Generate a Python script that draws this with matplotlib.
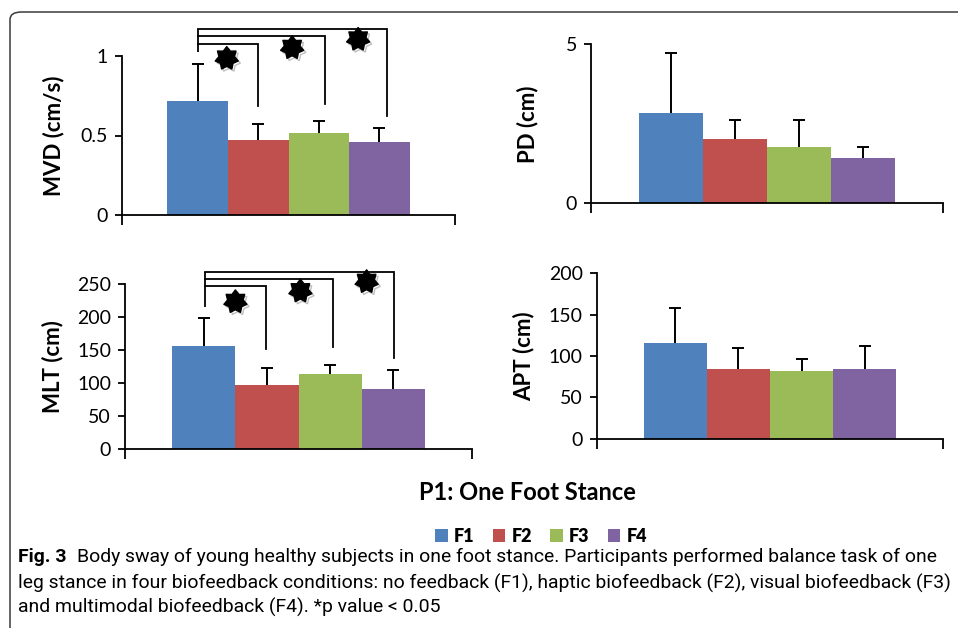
import matplotlib
matplotlib.use("Agg")
import matplotlib.pyplot as plt
import numpy as np
from matplotlib.patches import FancyBboxPatch, Patch
from matplotlib.path import Path
from matplotlib.text import Annotation
import matplotlib.patheffects as pe

# data
conditions = ["F1", "F2", "F3", "F4"]
colors = ["#4F81BD", "#C0504D", "#9BBB59", "#8064A2"]

mvd_mean = [0.717, 0.472, 0.516, 0.459]
mvd_sd = [0.231, 0.100, 0.077, 0.090]
pd_mean = [2.84, 2.02, 1.77, 1.42]
pd_sd = [1.90, 0.60, 0.84, 0.34]
mlt_mean = [156.5, 97.4, 114.0, 91.4]
mlt_sd = [42.5, 25.3, 14.0, 28.6]
apt_mean = [115.7, 84.3, 81.9, 84.3]
apt_sd = [42.3, 25.4, 14.5, 27.7]

caption = [
    "Body sway of young healthy subjects in one foot stance. "
    "Participants performed balance task of one",
    "leg stance in four biofeedback conditions: no feedback (F1), "
    "haptic biofeedback (F2), visual biofeedback (F3)",
    "and multimodal biofeedback (F4). *p value < 0.05",
]

W, H = 958, 628
chart_font = ["Lato", "DejaVu Sans"]
caption_font = ["Roboto", "DejaVu Sans"]

fig = plt.figure(figsize=(W / 100, H / 100), dpi=100)
fig.patch.set_facecolor("white")

# rounded frame around the figure panel (runs off the right/bottom edge)
frame = FancyBboxPatch((10 / W, (H - 640) / H), 970 / W, 628 / H,
                       boxstyle="round,pad=0,rounding_size=0.012",
                       transform=fig.transFigure, fill=False,
                       edgecolor="#3a3a3a", linewidth=1.1, clip_on=False)
fig.patches.append(frame)

# fat 7-point star like the reference
n = 7
ang = np.pi / 2 + np.arange(2 * n) * np.pi / n
rad = np.where(np.arange(2 * n) % 2 == 0, 1.0, 0.68)
verts = np.column_stack([rad * np.cos(ang), rad * np.sin(ang)])
verts = np.vstack([verts, verts[:1]])
star = Path(verts, [Path.MOVETO] + [Path.LINETO] * (2 * n - 1) + [Path.CLOSEPOLY])


def px_axes(left, right, y0, ytop):
    return fig.add_axes([left / W, (H - y0) / H, (right - left) / W, (y0 - ytop) / H])


def bar_panel(ax, means, sds, ylim, yticks, ylabel, ticklabels=None, lpad=10):
    x = np.arange(len(means))
    ax.bar(x, means, width=1.0, color=colors, edgecolor="none", zorder=2)
    eb = ax.errorbar(x, means, yerr=[np.zeros(len(sds)), sds], fmt="none",
                     ecolor="black", elinewidth=1.4, capsize=4.2,
                     capthick=1.4, zorder=3)
    eb[1][0].set_visible(False)  # only the upper cap, like Excel "plus"
    ax.set_xlim(-1.25, 4.25)
    ax.set_ylim(*ylim)
    ax.set_yticks(yticks)
    if ticklabels is not None:
        ax.set_yticklabels(ticklabels)
    ax.set_xticks([-1.25, 4.25])
    ax.set_xticklabels([])
    ax.tick_params(axis="x", direction="out", length=7, width=1.3)
    ax.tick_params(axis="y", direction="out", length=5, width=1.3,
                   labelsize=14, pad=5)
    for lab in ax.get_yticklabels():
        lab.set_family(chart_font)
    for s in ["top", "right"]:
        ax.spines[s].set_visible(False)
    for s in ["left", "bottom"]:
        ax.spines[s].set_linewidth(1.3)
    ax.set_ylabel(ylabel, fontsize=16, fontweight="bold", family=chart_font,
                  labelpad=lpad)
    ax.patch.set_alpha(0)


def brackets(ax, x0, y0, arms, stars):
    # arms: (x_end, y_level, y_drop)
    top = max(a[1] for a in arms)
    ax.plot([x0, x0], [y0, top], color="black", lw=1.3, clip_on=False,
            solid_capstyle="butt")
    for xe, yl, yd in arms:
        ax.plot([x0, xe, xe], [yl, yl, yd], color="black", lw=1.3,
                clip_on=False, solid_joinstyle="miter")
    for sx, sy in stars:
        ax.plot(sx, sy, marker=star, markersize=17, color="black",
                clip_on=False, linestyle="none", zorder=5,
                path_effects=[pe.SimpleLineShadow(offset=(1.5, -1.5),
                                                  shadow_color="gray",
                                                  alpha=0.5),
                              pe.Normal()])


# MVD
ax1 = px_axes(122, 455, 215, 56)
bar_panel(ax1, mvd_mean, mvd_sd, (0, 1), [0, 0.5, 1], "MVD (cm/s)",
          ["0", "0.5", "1"], lpad=12)
brackets(ax1, 0.0, 1.025,
         [(1.0, 1.077, 0.686), (2.1, 1.126, 0.696), (3.12, 1.172, 0.625)],
         [(0.48, 0.985), (1.56, 1.052), (2.65, 1.105)])

# PD
ax2 = px_axes(591, 943, 203.3, 44.3)
bar_panel(ax2, pd_mean, pd_sd, (0, 5), [0, 5], "PD (cm)", lpad=20)

# MLT
ax3 = px_axes(125, 472, 449.3, 284.3)
bar_panel(ax3, mlt_mean, mlt_sd, (0, 250), [0, 50, 100, 150, 200, 250],
          "MLT (cm)", lpad=10)
brackets(ax3, 0.02, 216,
         [(0.99, 247.4, 152), (2.04, 258.5, 154.5), (3.02, 269, 138.8)],
         [(0.5, 223.6), (1.53, 239.8), (2.58, 254)])

# APT
ax4 = px_axes(596.7, 943.3, 438.7, 273.3)
bar_panel(ax4, apt_mean, apt_sd, (0, 200), [0, 50, 100, 150, 200],
          "APT (cm)", lpad=10)

# shared title and legend
fig.text(527 / W, 1 - 492 / H, "P1: One Foot Stance", ha="center",
         va="center", fontsize=17, fontweight="bold", family=chart_font)
handles = [Patch(facecolor=c, edgecolor="none") for c in colors]
fig.legend(handles, conditions, loc="center", ncol=4,
           bbox_to_anchor=(541 / W, 1 - 536 / H), frameon=False,
           handlelength=0.7, handleheight=0.7, handletextpad=0.35,
           columnspacing=1.0, borderpad=0,
           prop={"family": chart_font, "weight": "heavy", "size": 13})

# caption: size it so that line 1 spans 18..940 px like the reference
renderer = fig.canvas.get_renderer()
cap_size = 13.0
for _ in range(3):
    tb = fig.text(0, 0, "Fig. 3", fontsize=cap_size, fontweight="bold",
                  family=caption_font)
    tn = fig.text(0, 0, caption[0], fontsize=cap_size, family=caption_font)
    wtot = (tb.get_window_extent(renderer).width
            + tn.get_window_extent(renderer).width + 7 * cap_size / 13 * 100 / 72)
    tb.remove()
    tn.remove()
    cap_size *= 922 / wtot

t0 = fig.text(18 / W, 1 - 557 / H, "Fig. 3", fontsize=cap_size,
              fontweight="bold", family=caption_font, va="center")
ann = Annotation(caption[0], xy=(1, 0), xycoords=t0,
                 xytext=(7 * cap_size / 13, 0), textcoords="offset points",
                 va="bottom", ha="left", fontsize=cap_size,
                 family=caption_font)
fig.add_artist(ann)
fig.text(18 / W, 1 - 583 / H, caption[1], fontsize=cap_size,
         family=caption_font, va="center")
fig.text(18 / W, 1 - 607 / H, caption[2], fontsize=cap_size,
         family=caption_font, va="center")

fig.savefig("out.png", dpi=100)
